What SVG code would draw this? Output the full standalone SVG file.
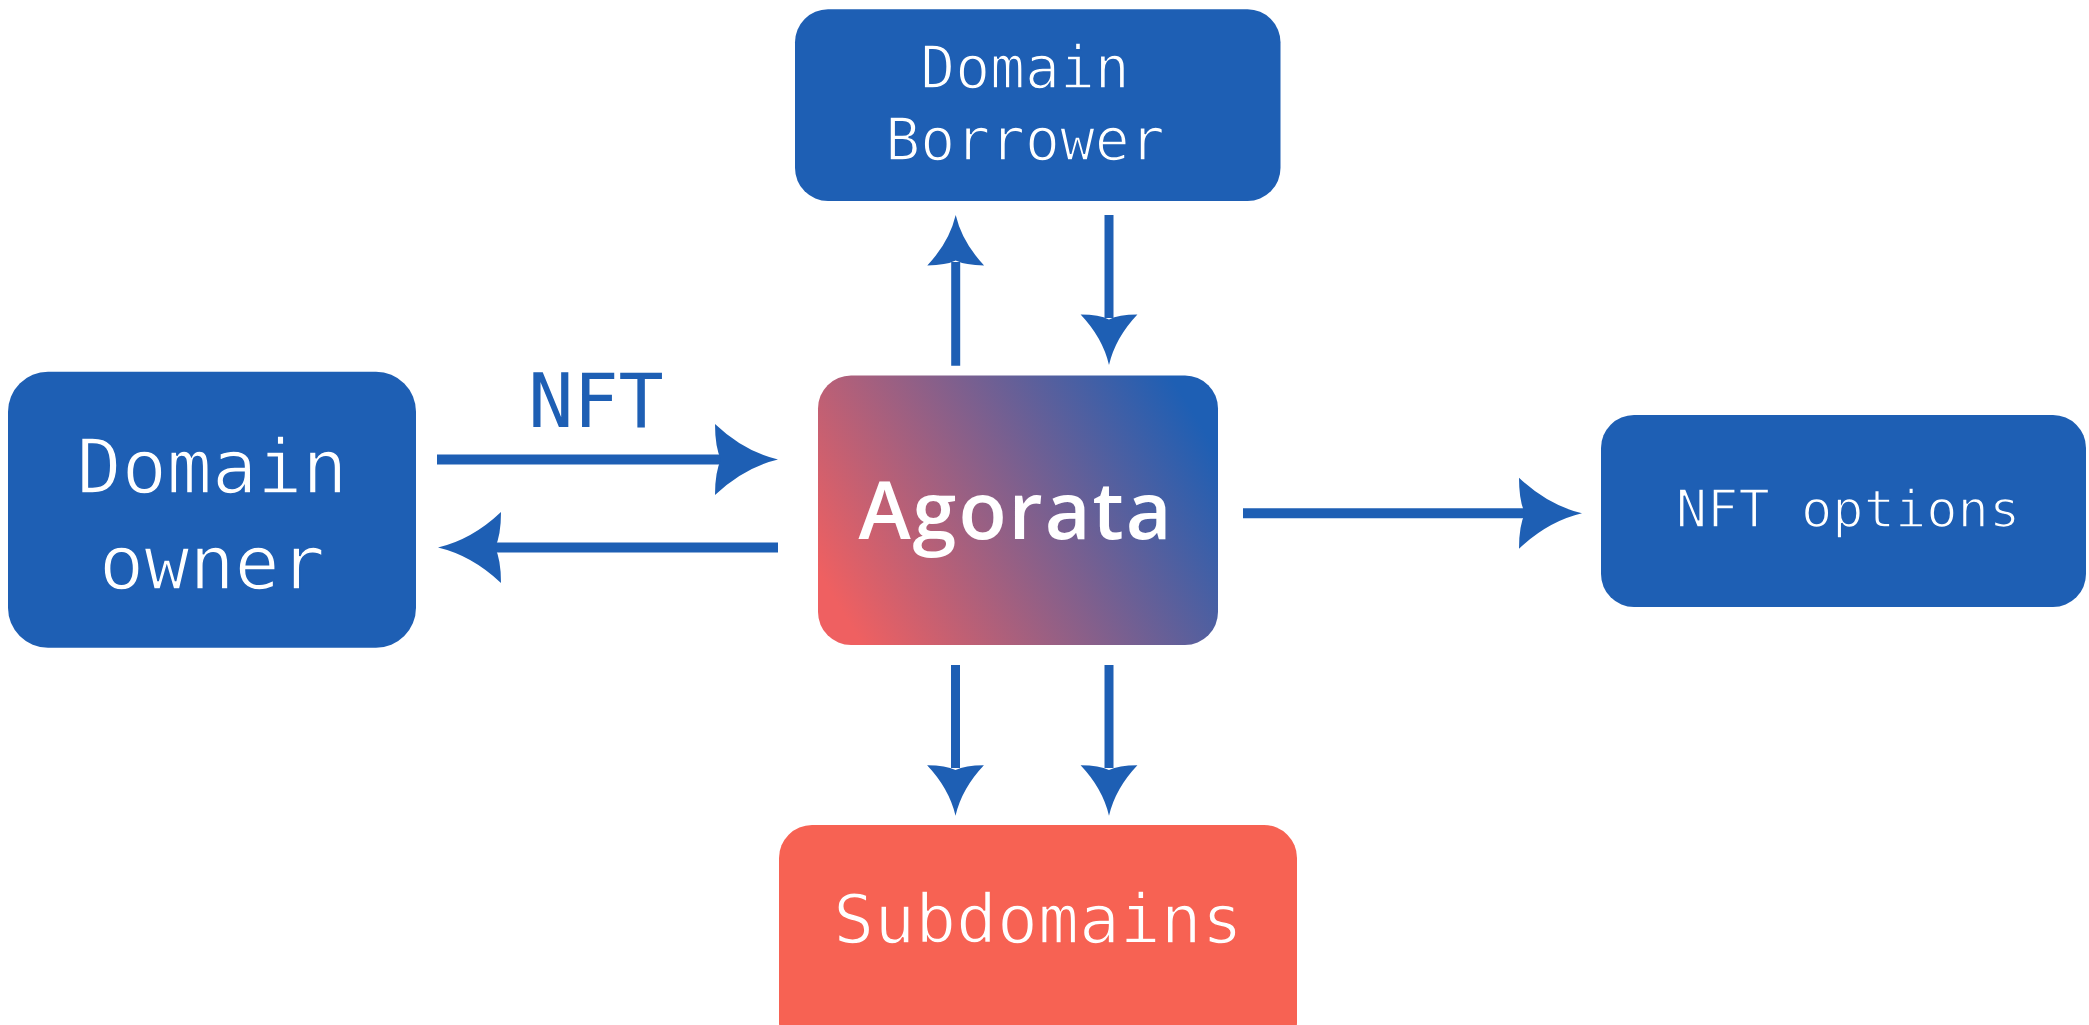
<svg xmlns="http://www.w3.org/2000/svg" width="2089" height="1025" viewBox="0 0 2089 1025">
  <style>
    .box { fill: #1e5fb4; }
    .lbl { font-family: "DejaVu Sans Mono", "Liberation Mono", monospace; fill: #ffffff; text-anchor: middle; stroke: #1e5fb4; stroke-width: 1.6; }
    .edge { stroke: #1e5fb4; fill: none; }
    .head { fill: #1e5fb4; }
  </style>
  <defs>
    <linearGradient id="grad" gradientUnits="userSpaceOnUse" x1="850" y1="625" x2="1195" y2="415">
      <stop offset="0" stop-color="#ef6061"/>
      <stop offset="1" stop-color="#1e5fb4"/>
    </linearGradient>
    <path id="ah" d="M0,0 Q-34,-8 -63,-35.5 Q-63,-12 -57,0 Q-63,12 -63,35.5 Q-34,8 0,0 Z"/>
  </defs>

  <g id="connectors">
    <line class="edge" x1="437" y1="459.5" x2="722" y2="459.5" stroke-width="10"/>
    <use class="head" href="#ah" transform="translate(778,459.5)"/>
    <text x="596" y="427" font-family="DejaVu Sans Mono, Liberation Mono, monospace" font-size="75" fill="#1e5fb4" text-anchor="middle">NFT</text>

    <line class="edge" x1="778" y1="547.5" x2="494" y2="547.5" stroke-width="10"/>
    <use class="head" href="#ah" transform="translate(438,547.5) rotate(180)"/>

    <line class="edge" x1="1243" y1="513.3" x2="1527" y2="513.3" stroke-width="10"/>
    <use class="head" href="#ah" transform="translate(1582,513.3)"/>

    <line class="edge" x1="955.7" y1="365.7" x2="955.7" y2="262" stroke-width="9"/>
    <use class="head" href="#ah" transform="translate(955.7,215) rotate(-90) scale(0.8)"/>

    <line class="edge" x1="1109" y1="215" x2="1109" y2="318" stroke-width="9"/>
    <use class="head" href="#ah" transform="translate(1109,365) rotate(90) scale(0.8)"/>

    <line class="edge" x1="955.5" y1="665" x2="955.5" y2="768" stroke-width="9"/>
    <use class="head" href="#ah" transform="translate(955.5,815.7) rotate(90) scale(0.8)"/>

    <line class="edge" x1="1109" y1="665" x2="1109" y2="768" stroke-width="9"/>
    <use class="head" href="#ah" transform="translate(1109,815.7) rotate(90) scale(0.8)"/>
  </g>

  <g id="domain-borrower">
    <rect class="box" x="795" y="9.3" width="485.5" height="191.7" rx="33"/>
    <text class="lbl" x="1025" y="88.3" font-size="58">Domain</text>
    <text class="lbl" x="1025" y="160" font-size="58">Borrower</text>
  </g>

  <g id="domain-owner">
    <rect class="box" x="8" y="371.7" width="408" height="276" rx="40"/>
    <text class="lbl" x="212" y="492.7" font-size="75">Domain</text>
    <text class="lbl" x="212" y="588.7" font-size="75">owner</text>
  </g>

  <g id="agorata">
    <rect x="818" y="375.5" width="400" height="269.5" rx="33" fill="url(#grad)"/>
    <text x="1016" y="539" font-family="Open Sans, Noto Sans, sans-serif" font-weight="600" font-size="79" fill="#ffffff" text-anchor="middle" letter-spacing="2">Agorata</text>
  </g>

  <g id="nft-options">
    <rect class="box" x="1601" y="415" width="485" height="192" rx="33"/>
    <text class="lbl" x="1848" y="527" font-size="52">NFT options</text>
  </g>

  <g id="subdomains">
    <rect x="779" y="825" width="518" height="230" rx="33" fill="#f76253"/>
    <text class="lbl" x="1038" y="943.3" font-size="68" style="stroke:#f76253">Subdomains</text>
  </g>
</svg>
